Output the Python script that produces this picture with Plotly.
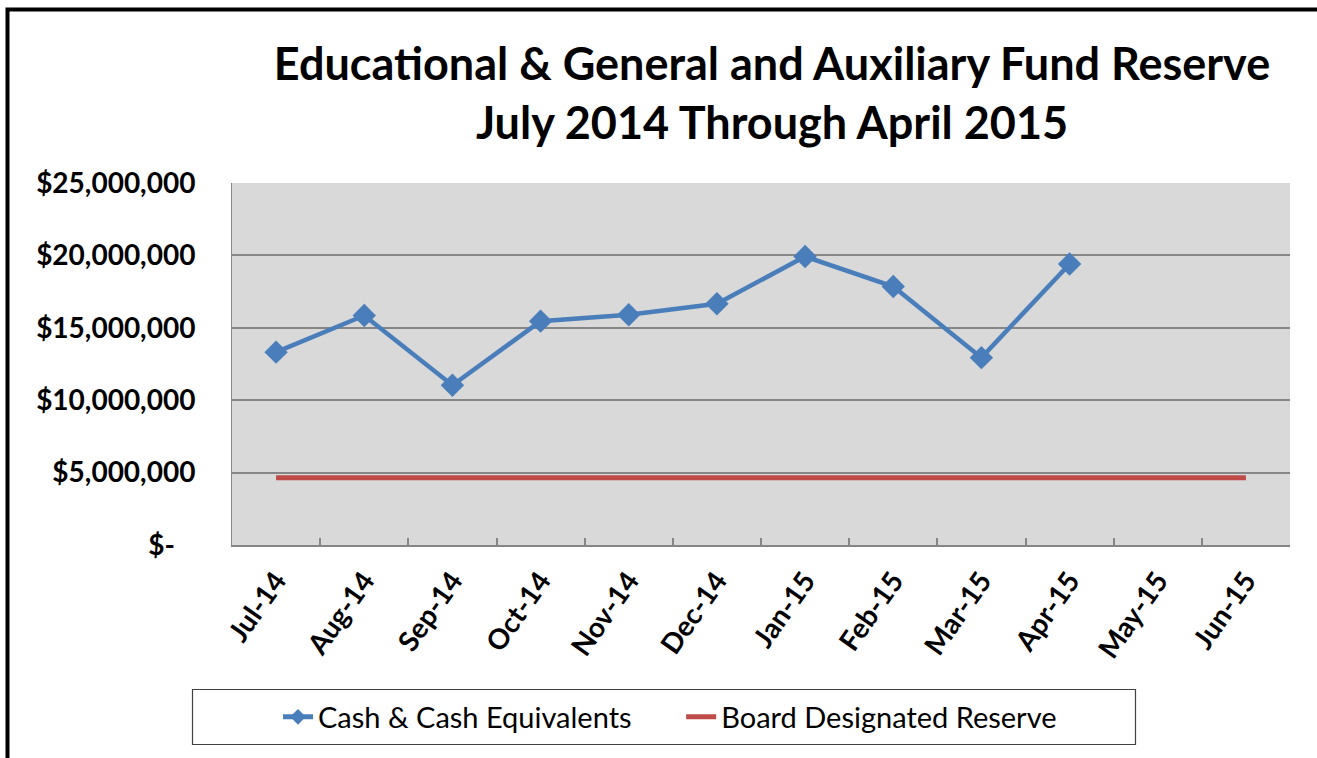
import plotly.graph_objects as go

months = ["Jul-14", "Aug-14", "Sep-14", "Oct-14", "Nov-14", "Dec-14",
          "Jan-15", "Feb-15", "Mar-15", "Apr-15", "May-15", "Jun-15"]
cash = [13320000, 15850000, 11030000, 15460000, 15900000, 16660000,
        19920000, 17850000, 12940000, 19410000, None, None]
reserve = [4640000] * 12

ytick_vals = [0, 5000000, 10000000, 15000000, 20000000, 25000000]
ytick_text = ["$-\u00a0\u00a0\u00a0", "$5,000,000", "$10,000,000", "$15,000,000",
              "$20,000,000", "$25,000,000"]

FONT = "Lato"

fig = go.Figure()
fig.add_trace(go.Scatter(
    x=months, y=cash, mode="lines+markers",
    name="Cash & Cash Equivalents\u00a0\u00a0\u00a0\u00a0\u00a0\u00a0",
    line=dict(color="#4A7EBB", width=4.5),
    marker=dict(symbol="diamond", size=18, color="#4A7EBB"),
    connectgaps=False,
))
fig.add_trace(go.Scatter(
    x=months, y=reserve, mode="lines", name="Board Designated Reserve",
    line=dict(color="#BE4B48", width=5),
))

L, R, T, B = 232, 1290, 183, 545
W, H = 1317, 758
pw, ph = R - L, B - T

def px(x):
    return (x - L) / pw

def py(y):
    return (B - y) / ph

fig.update_layout(
    width=W, height=H,
    margin=dict(l=L, r=W - R, t=T, b=H - B, pad=0),
    paper_bgcolor="white",
    plot_bgcolor="#D9D9D9",
    title=dict(
        text="<b>Educational & General and Auxiliary Fund Reserve<br>July 2014 Through April 2015</b>",
        x=772 / W, xanchor="center", xref="container",
        y=1 - 80 / H, yanchor="top", yref="container",
        font=dict(family=FONT, size=45, color="black"),
    ),
    showlegend=True,
    legend=dict(
        orientation="h", x=px(670), xanchor="center", y=py(717), yanchor="middle",
        borderwidth=0, bgcolor="rgba(0,0,0,0)",
        font=dict(family=FONT, size=29, color="black"),
        itemsizing="constant",
    ),
    xaxis=dict(
        type="category", tickmode="array", tickvals=months,
        ticktext=["<b>%s</b>" % m for m in months],
        tickangle=-55, tickson="boundaries", ticks="inside", ticklen=7,
        tickcolor="#868686", tickwidth=1.5,
        showline=True, linecolor="#868686", linewidth=2,
        showgrid=False, range=[-0.5, 11.5], ticklabelstandoff=6,
        tickfont=dict(family=FONT, size=28, color="black"),
    ),
    yaxis=dict(
        range=[0, 25000000], tickmode="array", tickvals=ytick_vals,
        ticktext=["<b>%s</b>" % t for t in ytick_text],
        showgrid=True, gridcolor="#868686", gridwidth=2,
        showline=True, linecolor="#868686", linewidth=1,
        zeroline=False, ticks="", ticklabelstandoff=30,
        tickfont=dict(family=FONT, size=28, color="black"),
    ),
    shapes=[
        dict(type="rect", xref="paper", yref="paper",
             x0=px(7.5), x1=px(1340), y0=py(9.5), y1=py(800),
             line=dict(color="black", width=4), fillcolor="rgba(0,0,0,0)", layer="below"),
        dict(type="rect", xref="paper", yref="paper",
             x0=px(192.5), x1=px(1135.5), y0=py(689.5), y1=py(744.5),
             line=dict(color="#404040", width=1.2), fillcolor="white", layer="below"),
    ],
)

fig.write_html("out.html")
